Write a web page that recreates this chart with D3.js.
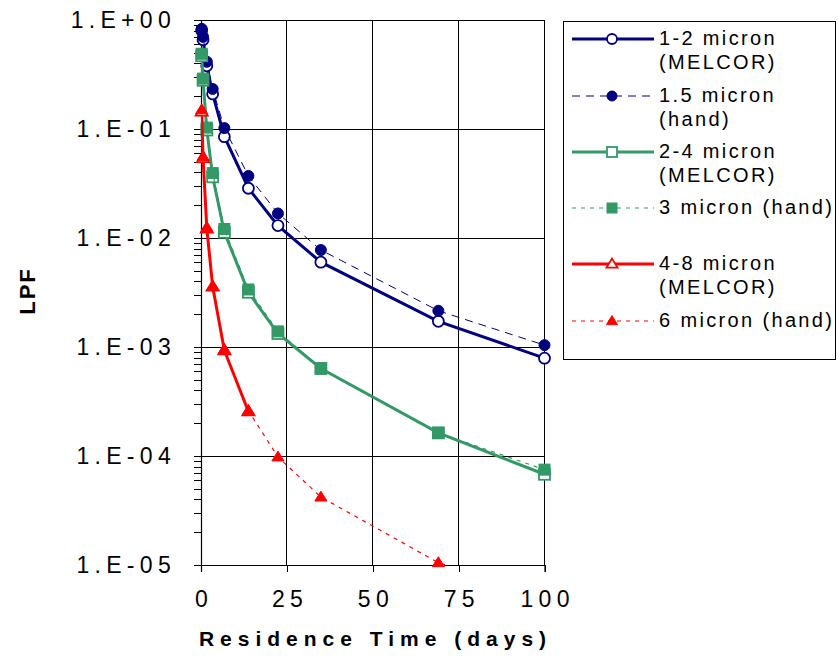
<!DOCTYPE html>
<html><head><meta charset="utf-8">
<script src="https://cdn.jsdelivr.net/npm/d3@7"></script>
<style>
body{margin:0;background:#fff;}
svg{display:block;font-family:Arial,"Liberation Sans",sans-serif;}
</style>
</head><body>
<svg id="c" width="838" height="657"></svg>
<script>
// ---- data ----
const days = [0.2, 0.6, 1.7, 3.4, 6.8, 13.8, 22.4, 34.9, 69.1, 100];
const melcor_1_2 = [0.80, 0.66, 0.38, 0.21, 0.085, 0.0286, 0.0130, 0.0060, 0.00172, 0.00079];
const hand_1_5   = [0.83, 0.70, 0.414, 0.233, 0.102, 0.0371, 0.0168, 0.00776, 0.00215, 0.00104];
const melcor_2_4 = [0.47, 0.28, 0.098, 0.0364, 0.0113, 0.00318, 0.00133, 0.000635, 0.000163, 0.000068];
const hand_3     = [0.49, 0.29, 0.103, 0.0394, 0.0121, 0.00337, 0.00139, 0.000635, 0.000163, 0.000075];
const melcor_4_8 = [0.144, 0.054, 0.0122, 0.00358, 0.00093, 0.000256];
const hand_6     = [0.15, 0.056, 0.0125, 0.0036, 0.00095, 0.00026, 0.000098, 0.000042, 0.0000105, 0.0000055];
const seriesNames = [["1-2 micron","(MELCOR)"],["1.5 micron","(hand)"],["2-4 micron","(MELCOR)"],["3 micron (hand)"],["4-8 micron","(MELCOR)"],["6 micron (hand)"]];
const yTickValues = [1e-5, 1e-4, 1e-3, 1e-2, 1e-1, 1];
const yTickLabels = ["1.E-05","1.E-04","1.E-03","1.E-02","1.E-01","1.E+00"];
const xTickValues = [0, 25, 50, 75, 100];
const xTickLabels = ["0","25","50","75","100"];
const xTitle = "Residence Time (days)";
const yTitle = "LPF";

// ---- styles ----
const NAVY = "#000080", GREEN = "#339966", RED = "#ff0000";
const series = [
  {vals: melcor_1_2, color: NAVY,  width: 3, dash: null,  marker: "circle",   open: true},
  {vals: hand_1_5,   color: NAVY,  width: 1, dash: "8,6", marker: "circle",   open: false},
  {vals: melcor_2_4, color: GREEN, width: 3, dash: null,  marker: "square",   open: true},
  {vals: hand_3,     color: GREEN, width: 1.2, dash: "4,5", marker: "square", open: false},
  {vals: melcor_4_8, color: RED,   width: 3, dash: null,  marker: "triangle", open: true},
  {vals: hand_6,     color: RED,   width: 1.2, dash: "4,5", marker: "triangle", open: false}
];

const svg = d3.select("#c");
const x = d3.scaleLinear().domain([0, 100]).range([201, 544.5]);
const y = d3.scaleLog().domain([1e-5, 1]).range([565, 20]);

svg.append("defs").append("clipPath").attr("id","plot")
  .append("rect").attr("x", x(0)).attr("y", y(1)).attr("width", x(100)-x(0)).attr("height", y(1e-5)-y(1));

// gridlines
const grid = svg.append("g").attr("stroke","#000").attr("stroke-width",1).attr("shape-rendering","crispEdges");
yTickValues.forEach(v => grid.append("line").attr("x1", x(0)).attr("x2", x(100)).attr("y1", y(v)).attr("y2", y(v)));
xTickValues.forEach(v => grid.append("line").attr("x1", x(v)).attr("x2", x(v)).attr("y1", y(1)).attr("y2", y(1e-5)));

// y axis
const minors = [];
for (let e = -5; e < 0; e++) for (let m = 1; m < 10; m++) minors.push(m * Math.pow(10, e));
minors.push(1);
const FS = 23, LS = 5.3;
const yAxis = svg.append("g").attr("transform", `translate(${x(0)},0)`)
  .call(d3.axisLeft(y).tickValues(minors).tickSize(7).tickPadding(18)
    .tickFormat(d => { const i = yTickValues.findIndex(v => Math.abs(Math.log10(v) - Math.log10(d)) < 1e-6); return i >= 0 ? yTickLabels[i] : ""; }));
yAxis.select(".domain").attr("stroke","#000").attr("stroke-width",1.2);
yAxis.selectAll(".tick line").attr("stroke","#000").attr("shape-rendering","crispEdges");
yAxis.selectAll("text").attr("font-size", FS).attr("fill","#000").attr("letter-spacing", LS)
  .attr("font-family","Arial, 'Liberation Sans', sans-serif");

// x axis
const xAxis = svg.append("g").attr("transform", `translate(0,${y(1e-5)})`)
  .call(d3.axisBottom(x).tickValues(xTickValues).tickSize(7).tickPadding(19)
    .tickFormat((d, i) => xTickLabels[i]));
xAxis.select(".domain").attr("stroke","#000").attr("stroke-width",1.2);
xAxis.selectAll(".tick line").attr("stroke","#000").attr("shape-rendering","crispEdges");
xAxis.selectAll("text").attr("font-size", FS).attr("fill","#000").attr("letter-spacing", LS).attr("dx", LS/2)
  .attr("font-family","Arial, 'Liberation Sans', sans-serif");

// titles
svg.append("text").attr("x", 372.5 + 3).attr("y", 646).attr("text-anchor","middle")
  .attr("font-size", 21).attr("font-weight","bold").attr("letter-spacing", 6.0).text(xTitle);
svg.append("text").attr("transform","translate(35,291) rotate(-90)").attr("text-anchor","middle")
  .attr("font-size", 22).attr("font-weight","bold").attr("letter-spacing", 2).text(yTitle);

// marker drawer
function drawMarker(g, type, cx, cy, color, open, size) {
  const fill = open ? "#fff" : color;
  if (type === "circle") {
    g.append("circle").attr("cx", cx).attr("cy", cy).attr("r", size/2)
      .attr("fill", fill).attr("stroke", color).attr("stroke-width", open ? 1.8 : 1);
  } else if (type === "square") {
    g.append("rect").attr("x", cx - size/2).attr("y", cy - size/2).attr("width", size).attr("height", size)
      .attr("fill", fill).attr("stroke", color).attr("stroke-width", open ? 1.8 : 1);
  } else {
    const h = size * 0.9, w = size * 1.1;
    g.append("path").attr("d", `M${cx},${cy - h*0.6}L${cx + w/2},${cy + h*0.4}L${cx - w/2},${cy + h*0.4}Z`)
      .attr("fill", fill).attr("stroke", color).attr("stroke-width", open ? 1.8 : 1);
  }
}

// series
const line = d3.line().x(d => x(d[0])).y(d => y(d[1]));
series.forEach(s => {
  const pts = s.vals.map((v, i) => [days[i], v]);
  const g = svg.append("g");
  g.append("path").attr("d", line(pts)).attr("fill","none").attr("stroke", s.color)
    .attr("stroke-width", s.width).attr("stroke-dasharray", s.dash).attr("clip-path","url(#plot)");
  pts.forEach(p => { if (p[1] >= 1e-5) drawMarker(g, s.marker, x(p[0]), y(p[1]), s.color, s.open, 11); });
});

// legend
const lg = svg.append("g");
lg.append("rect").attr("x", 563.5).attr("y", 21.5).attr("width", 272).attr("height", 338)
  .attr("fill","#fff").attr("stroke","#000").attr("stroke-width",1);
const rowY = [39, 96, 152, 208, 264, 321];
series.forEach((s, i) => {
  const yy = rowY[i];
  lg.append("line").attr("x1", 572).attr("x2", 654).attr("y1", yy).attr("y2", yy)
    .attr("stroke", s.color).attr("stroke-width", s.width).attr("stroke-dasharray", s.dash);
  drawMarker(lg, s.marker, 612, yy, s.color, s.open, 10);
  const t = lg.append("text").attr("x", 659).attr("y", yy + 6).attr("font-size", 20).attr("letter-spacing", 2.35).attr("fill","#000");
  seriesNames[i].forEach((ln, j) => t.append("tspan").attr("x", 659).attr("dy", j === 0 ? 0 : 23.5).text(ln));
});
</script>
</body></html>
